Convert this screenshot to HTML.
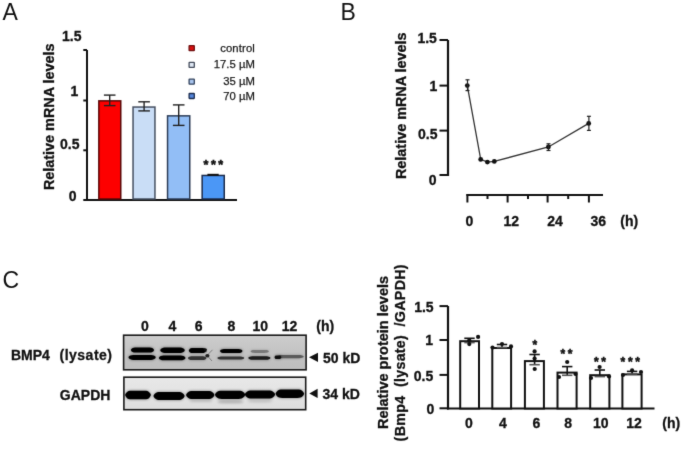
<!DOCTYPE html>
<html><head><meta charset="utf-8"><title>Figure</title>
<style>html,body{margin:0;padding:0;background:#fff;}svg{display:block;}</style></head>
<body><svg width="685" height="449" viewBox="0 0 685 449" font-family="Liberation Sans, Arial, sans-serif">
<defs><filter id="gb" x="0" y="0" width="685" height="449" filterUnits="userSpaceOnUse" color-interpolation-filters="sRGB"><feConvolveMatrix order="3" kernelMatrix="0.01 0.08 0.01 0.08 0.64 0.08 0.01 0.08 0.01" preserveAlpha="true"/></filter></defs>
<g filter="url(#gb)">
<rect width="685" height="449" fill="#fff"/>
<text x="2.5" y="19.8" font-size="23" font-weight="normal" text-anchor="start" fill="#111" >A</text>
<line x1="87" y1="50" x2="87" y2="201" stroke="#111" stroke-width="2"/>
<line x1="83.3" y1="50" x2="87" y2="50" stroke="#111" stroke-width="2"/>
<line x1="83.3" y1="100.5" x2="87" y2="100.5" stroke="#111" stroke-width="2"/>
<line x1="83.3" y1="150.3" x2="87" y2="150.3" stroke="#111" stroke-width="2"/>
<line x1="83.3" y1="200" x2="237" y2="200" stroke="#111" stroke-width="2"/>
<text x="81.5" y="40.9" font-size="14" font-weight="bold" text-anchor="end" fill="#111" stroke="#111" stroke-width="0.3" >1.5</text>
<text x="78.3" y="95.9" font-size="14" font-weight="bold" text-anchor="end" fill="#111" stroke="#111" stroke-width="0.3" >1</text>
<text x="79.5" y="148.9" font-size="14" font-weight="bold" text-anchor="end" fill="#111" stroke="#111" stroke-width="0.3" >0.5</text>
<text x="76.6" y="200.5" font-size="14" font-weight="bold" text-anchor="end" fill="#111" stroke="#111" stroke-width="0.3" >0</text>
<text transform="translate(53.7,116.8) rotate(-90)" stroke="#111" stroke-width="0.3" font-size="14.4" font-weight="bold" text-anchor="middle" fill="#111">Relative mRNA levels</text>
<rect x="98.85" y="100.85" width="21.900000000000006" height="98.15" fill="#fd0000" stroke="#5a0808" stroke-width="1.5"/>
<rect x="133.05" y="107.05" width="21.899999999999977" height="91.95" fill="#c9ddf6" stroke="#465062" stroke-width="1.5"/>
<rect x="167.55" y="115.85" width="22.19999999999999" height="83.15" fill="#92bef6" stroke="#2e3e58" stroke-width="1.5"/>
<rect x="202.15" y="175.45" width="22.099999999999994" height="23.55000000000001" fill="#4b97f6" stroke="#1c2c4c" stroke-width="1.5"/>
<line x1="109.7" y1="95.1" x2="109.7" y2="105.6" stroke="#222" stroke-width="1.4"/>
<line x1="103.9" y1="95.1" x2="115.5" y2="95.1" stroke="#222" stroke-width="1.4"/>
<line x1="103.9" y1="105.6" x2="115.5" y2="105.6" stroke="#222" stroke-width="1.4"/>
<line x1="144.1" y1="101.8" x2="144.1" y2="110.9" stroke="#222" stroke-width="1.4"/>
<line x1="138.29999999999998" y1="101.8" x2="149.9" y2="101.8" stroke="#222" stroke-width="1.4"/>
<line x1="138.29999999999998" y1="110.9" x2="149.9" y2="110.9" stroke="#222" stroke-width="1.4"/>
<line x1="178.7" y1="104.9" x2="178.7" y2="125.4" stroke="#222" stroke-width="1.4"/>
<line x1="172.89999999999998" y1="104.9" x2="184.5" y2="104.9" stroke="#222" stroke-width="1.4"/>
<line x1="172.89999999999998" y1="125.4" x2="184.5" y2="125.4" stroke="#222" stroke-width="1.4"/>
<line x1="207.4" y1="174.8" x2="218.7" y2="174.8" stroke="#111" stroke-width="2"/>
<text x="203.55" y="168.9" font-size="12.5" font-weight="bold" fill="#111" stroke="#111" stroke-width="0.55" letter-spacing="2.5">***</text>
<rect x="189.1" y="45.6" width="5.2" height="5" fill="#d81010" stroke="#701010" stroke-width="1.3" rx="0.4"/>
<text x="254.8" y="52.2" font-size="11.3" font-weight="normal" text-anchor="end" fill="#1a1a1a" stroke="#1a1a1a" stroke-width="0.25" textLength="34.6">control</text>
<rect x="189.1" y="62.3" width="5.2" height="5" fill="#dfe8f4" stroke="#454d5c" stroke-width="1.3" rx="0.4"/>
<text x="254.8" y="67.8" font-size="11.3" font-weight="normal" text-anchor="end" fill="#1a1a1a" stroke="#1a1a1a" stroke-width="0.25">17.5 µM</text>
<rect x="189.1" y="79.2" width="5.2" height="5" fill="#a8c4ee" stroke="#34445e" stroke-width="1.3" rx="0.4"/>
<text x="254.8" y="84.6" font-size="11.3" font-weight="normal" text-anchor="end" fill="#1a1a1a" stroke="#1a1a1a" stroke-width="0.25">35 µM</text>
<rect x="189.1" y="93.5" width="5.2" height="5" fill="#5486dc" stroke="#1e2e50" stroke-width="1.3" rx="0.4"/>
<text x="254.8" y="99.7" font-size="11.3" font-weight="normal" text-anchor="end" fill="#1a1a1a" stroke="#1a1a1a" stroke-width="0.25">70 µM</text>
<text x="340.5" y="19.8" font-size="23" font-weight="normal" text-anchor="start" fill="#111" >B</text>
<line x1="448" y1="40" x2="448" y2="176" stroke="#111" stroke-width="2.2"/>
<line x1="439.5" y1="40" x2="448" y2="40" stroke="#111" stroke-width="2"/>
<line x1="439.5" y1="85.6" x2="448" y2="85.6" stroke="#111" stroke-width="2"/>
<line x1="439.5" y1="130.6" x2="448" y2="130.6" stroke="#111" stroke-width="2"/>
<line x1="439.5" y1="175" x2="448" y2="175" stroke="#111" stroke-width="2"/>
<text x="436.9" y="42.8" font-size="14" font-weight="bold" text-anchor="end" fill="#111" stroke="#111" stroke-width="0.3" >1.5</text>
<text x="437.3" y="91.1" font-size="14" font-weight="bold" text-anchor="end" fill="#111" stroke="#111" stroke-width="0.3" >1</text>
<text x="437.5" y="139.2" font-size="14" font-weight="bold" text-anchor="end" fill="#111" stroke="#111" stroke-width="0.3" >0.5</text>
<text x="436.5" y="184.5" font-size="14" font-weight="bold" text-anchor="end" fill="#111" stroke="#111" stroke-width="0.3" >0</text>
<text transform="translate(406,105.75) rotate(-90)" stroke="#111" stroke-width="0.3" font-size="14.4" font-weight="bold" text-anchor="middle" fill="#111">Relative mRNA levels</text>
<line x1="466.4" y1="195" x2="603" y2="195" stroke="#111" stroke-width="2"/>
<line x1="467.4" y1="194" x2="467.4" y2="202.5" stroke="#111" stroke-width="2"/>
<line x1="507.6" y1="194" x2="507.6" y2="202.5" stroke="#111" stroke-width="2"/>
<line x1="547.6" y1="194" x2="547.6" y2="202.5" stroke="#111" stroke-width="2"/>
<line x1="588.9" y1="194" x2="588.9" y2="202.5" stroke="#111" stroke-width="2"/>
<line x1="487.5" y1="194" x2="487.5" y2="199" stroke="#111" stroke-width="2"/>
<line x1="528" y1="194" x2="528" y2="199" stroke="#111" stroke-width="2"/>
<line x1="568.2" y1="194" x2="568.2" y2="199" stroke="#111" stroke-width="2"/>
<text x="469.4" y="226.2" font-size="14" font-weight="bold" text-anchor="middle" fill="#111" stroke="#111" stroke-width="0.3" >0</text>
<text x="511.2" y="226.2" font-size="14" font-weight="bold" text-anchor="middle" fill="#111" stroke="#111" stroke-width="0.3" >12</text>
<text x="555" y="226.2" font-size="14" font-weight="bold" text-anchor="middle" fill="#111" stroke="#111" stroke-width="0.3" >24</text>
<text x="598.2" y="226.2" font-size="14" font-weight="bold" text-anchor="middle" fill="#111" stroke="#111" stroke-width="0.3" >36</text>
<text x="629.2" y="226.2" font-size="14" font-weight="bold" text-anchor="middle" fill="#111" stroke="#111" stroke-width="0.3" >(h)</text>
<polyline points="467.3,85.6 480.7,159.4 487.4,162.1 494.3,161.4 548.4,147 588.7,123.4" fill="none" stroke="#333" stroke-width="1.3"/>
<circle cx="467.3" cy="85.6" r="2.4" fill="#111"/>
<circle cx="480.7" cy="159.4" r="2.4" fill="#111"/>
<circle cx="487.4" cy="162.1" r="2.4" fill="#111"/>
<circle cx="494.3" cy="161.4" r="2.4" fill="#111"/>
<circle cx="548.4" cy="147" r="2.4" fill="#111"/>
<circle cx="588.7" cy="123.4" r="2.4" fill="#111"/>
<line x1="467.5" y1="79.8" x2="467.5" y2="90.6" stroke="#222" stroke-width="1.2"/>
<line x1="465.5" y1="79.8" x2="469.5" y2="79.8" stroke="#222" stroke-width="1.2"/>
<line x1="465.5" y1="90.6" x2="469.5" y2="90.6" stroke="#222" stroke-width="1.2"/>
<line x1="548.5" y1="143.8" x2="548.5" y2="150.5" stroke="#222" stroke-width="1.2"/>
<line x1="546.5" y1="143.8" x2="550.5" y2="143.8" stroke="#222" stroke-width="1.2"/>
<line x1="546.5" y1="150.5" x2="550.5" y2="150.5" stroke="#222" stroke-width="1.2"/>
<line x1="588.9" y1="116.3" x2="588.9" y2="130.4" stroke="#222" stroke-width="1.2"/>
<line x1="586.9" y1="116.3" x2="590.9" y2="116.3" stroke="#222" stroke-width="1.2"/>
<line x1="586.9" y1="130.4" x2="590.9" y2="130.4" stroke="#222" stroke-width="1.2"/>
<text x="2.5" y="288.2" font-size="23" font-weight="normal" text-anchor="start" fill="#111" >C</text>
<text x="145" y="330.7" font-size="14" font-weight="bold" text-anchor="middle" fill="#111" stroke="#111" stroke-width="0.3" >0</text>
<text x="172.3" y="330.7" font-size="14" font-weight="bold" text-anchor="middle" fill="#111" stroke="#111" stroke-width="0.3" >4</text>
<text x="198.7" y="330.7" font-size="14" font-weight="bold" text-anchor="middle" fill="#111" stroke="#111" stroke-width="0.3" >6</text>
<text x="231.4" y="330.7" font-size="14" font-weight="bold" text-anchor="middle" fill="#111" stroke="#111" stroke-width="0.3" >8</text>
<text x="260.3" y="330.7" font-size="14" font-weight="bold" text-anchor="middle" fill="#111" stroke="#111" stroke-width="0.3" >10</text>
<text x="289.6" y="330.7" font-size="14" font-weight="bold" text-anchor="middle" fill="#111" stroke="#111" stroke-width="0.3" >12</text>
<text x="325.2" y="330.7" font-size="14" font-weight="bold" text-anchor="middle" fill="#111" stroke="#111" stroke-width="0.3" >(h)</text>
<text x="11" y="359.9" font-size="14" font-weight="bold" text-anchor="start" fill="#111" stroke="#111" stroke-width="0.3" >BMP4</text>
<text x="59.5" y="359.9" font-size="14" font-weight="bold" text-anchor="start" fill="#111" stroke="#111" stroke-width="0.3" textLength="52.5">(lysate)</text>
<text x="59.8" y="399.8" font-size="14" font-weight="bold" text-anchor="start" fill="#111" stroke="#111" stroke-width="0.3" >GAPDH</text>
<polygon points="309,357.3 318,352.7 318,362" fill="#111"/>
<polygon points="309.3,393.5 317.6,388.8 317.6,398.1" fill="#111"/>
<text x="323" y="362.8" font-size="14" font-weight="bold" text-anchor="start" fill="#111" stroke="#111" stroke-width="0.3" >50 kD</text>
<text x="322.5" y="399.3" font-size="14" font-weight="bold" text-anchor="start" fill="#111" stroke="#111" stroke-width="0.3" >34 kD</text>
<defs>
<linearGradient id="g1" x1="0" y1="0" x2="0" y2="1"><stop offset="0" stop-color="#cdcdcd"/><stop offset="0.45" stop-color="#c4c4c4"/><stop offset="1" stop-color="#bdbdbd"/></linearGradient>
<linearGradient id="g2" x1="0" y1="0" x2="0" y2="1"><stop offset="0" stop-color="#e8e8e8"/><stop offset="1" stop-color="#dedede"/></linearGradient>
<filter id="bl" x="-20%" y="-100%" width="140%" height="300%"><feGaussianBlur stdDeviation="0.7"/></filter>
<filter id="halo" x="-20%" y="-150%" width="140%" height="400%"><feGaussianBlur stdDeviation="1.6"/></filter>
<filter id="bl2" x="-20%" y="-100%" width="140%" height="300%"><feGaussianBlur stdDeviation="1.3"/></filter>
</defs>
<rect x="123.6" y="335.2" width="182.5" height="34.6" fill="url(#g1)" stroke="#1a1a1a" stroke-width="1.6"/>
<rect x="123.9" y="377.2" width="181.8" height="32.5" fill="url(#g2)" stroke="#1a1a1a" stroke-width="1.6"/>
<path d="M131.4,349.0 C133.1,347.6 134.3,347.6 136.3,347.6 L148.6,347.6 C150.6,347.6 151.8,347.6 153.5,349.0 Q154.6,350.1 153.5,351.2 C151.8,352.6 150.6,352.6 148.6,352.6 L136.3,352.6 C134.3,352.6 133.1,352.6 131.4,351.2 Q130.3,350.1 131.4,349.0 Z" fill="#000" opacity="0.45" filter="url(#halo)"/>
<path d="M131.4,349.0 C133.1,347.6 134.3,347.6 136.3,347.6 L148.6,347.6 C150.6,347.6 151.8,347.6 153.5,349.0 Q154.6,350.1 153.5,351.2 C151.8,352.6 150.6,352.6 148.6,352.6 L136.3,352.6 C134.3,352.6 133.1,352.6 131.4,351.2 Q130.3,350.1 131.4,349.0 Z" fill="#000" opacity="1" filter="url(#bl)"/>
<path d="M129.0,356.3 C131.0,354.9 132.5,354.9 134.8,354.9 L149.4,354.9 C151.7,354.9 153.2,354.9 155.2,356.3 Q156.3,357.4 155.2,358.5 C153.2,359.9 151.7,359.9 149.4,359.9 L134.8,359.9 C132.5,359.9 131.0,359.9 129.0,358.5 Q127.9,357.4 129.0,356.3 Z" fill="#000" opacity="0.45" filter="url(#halo)"/>
<path d="M129.0,356.3 C131.0,354.9 132.5,354.9 134.8,354.9 L149.4,354.9 C151.7,354.9 153.2,354.9 155.2,356.3 Q156.3,357.4 155.2,358.5 C153.2,359.9 151.7,359.9 149.4,359.9 L134.8,359.9 C132.5,359.9 131.0,359.9 129.0,358.5 Q127.9,357.4 129.0,356.3 Z" fill="#000" opacity="1" filter="url(#bl)"/>
<path d="M160.8,349.1 C162.6,347.6 163.9,347.6 165.9,347.6 L179.1,347.6 C181.1,347.6 182.4,347.6 184.2,349.1 Q185.4,350.3 184.2,351.5 C182.4,353.0 181.1,353.0 179.1,353.0 L165.9,353.0 C163.9,353.0 162.6,353.0 160.8,351.5 Q159.6,350.3 160.8,349.1 Z" fill="#000" opacity="0.45" filter="url(#halo)"/>
<path d="M160.8,349.1 C162.6,347.6 163.9,347.6 165.9,347.6 L179.1,347.6 C181.1,347.6 182.4,347.6 184.2,349.1 Q185.4,350.3 184.2,351.5 C182.4,353.0 181.1,353.0 179.1,353.0 L165.9,353.0 C163.9,353.0 162.6,353.0 160.8,351.5 Q159.6,350.3 160.8,349.1 Z" fill="#000" opacity="1" filter="url(#bl)"/>
<path d="M159.3,356.9 C161.3,355.6 162.7,355.6 165.0,355.6 L179.3,355.6 C181.6,355.6 183.0,355.6 185.0,356.9 Q186.0,357.9 185.0,358.9 C183.0,360.2 181.6,360.2 179.3,360.2 L165.0,360.2 C162.7,360.2 161.3,360.2 159.3,358.9 Q158.3,357.9 159.3,356.9 Z" fill="#000" opacity="0.45" filter="url(#halo)"/>
<path d="M159.3,356.9 C161.3,355.6 162.7,355.6 165.0,355.6 L179.3,355.6 C181.6,355.6 183.0,355.6 185.0,356.9 Q186.0,357.9 185.0,358.9 C183.0,360.2 181.6,360.2 179.3,360.2 L165.0,360.2 C162.7,360.2 161.3,360.2 159.3,358.9 Q158.3,357.9 159.3,356.9 Z" fill="#000" opacity="1" filter="url(#bl)"/>
<path d="M189.3,349.5 C190.5,348.1 191.4,348.1 192.9,348.1 L201.9,348.1 C203.4,348.1 204.3,348.1 205.5,349.5 Q206.6,350.6 205.5,351.7 C204.3,353.1 203.4,353.1 201.9,353.1 L192.9,353.1 C191.4,353.1 190.5,353.1 189.3,351.7 Q188.2,350.6 189.3,349.5 Z" fill="#050505" opacity="0.45" filter="url(#halo)"/>
<path d="M189.3,349.5 C190.5,348.1 191.4,348.1 192.9,348.1 L201.9,348.1 C203.4,348.1 204.3,348.1 205.5,349.5 Q206.6,350.6 205.5,351.7 C204.3,353.1 203.4,353.1 201.9,353.1 L192.9,353.1 C191.4,353.1 190.5,353.1 189.3,351.7 Q188.2,350.6 189.3,349.5 Z" fill="#050505" opacity="1" filter="url(#bl)"/>
<path d="M203,348.6 Q206,347.4 207,349.5 L206,352.5 Z" fill="#111" filter="url(#bl)"/>
<path d="M188.4,357.3 C189.8,356.3 190.7,356.3 192.3,356.3 L202.1,356.3 C203.7,356.3 204.6,356.3 206.0,357.3 Q206.8,358.1 206.0,358.9 C204.6,359.9 203.7,359.9 202.1,359.9 L192.3,359.9 C190.7,359.9 189.8,359.9 188.4,358.9 Q187.6,358.1 188.4,357.3 Z" fill="#333" opacity="0.45" filter="url(#halo)"/>
<path d="M188.4,357.3 C189.8,356.3 190.7,356.3 192.3,356.3 L202.1,356.3 C203.7,356.3 204.6,356.3 206.0,357.3 Q206.8,358.1 206.0,358.9 C204.6,359.9 203.7,359.9 202.1,359.9 L192.3,359.9 C190.7,359.9 189.8,359.9 188.4,358.9 Q187.6,358.1 188.4,357.3 Z" fill="#333" opacity="1" filter="url(#bl)"/>
<ellipse cx="207.4" cy="355.7" rx="2.1" ry="1.7" fill="#1a1a1a" filter="url(#bl)"/>
<path d="M207,355.5 L212.5,349.8 M207.5,356 L212,361" stroke="#444" stroke-width="0.9" opacity="0.6" filter="url(#bl)"/>
<path d="M220.5,350.1 C222.2,348.9 223.3,348.9 225.2,348.9 L237.3,348.9 C239.2,348.9 240.3,348.9 242.0,350.1 Q242.9,351.0 242.0,351.9 C240.3,353.1 239.2,353.1 237.3,353.1 L225.2,353.1 C223.3,353.1 222.2,353.1 220.5,351.9 Q219.6,351.0 220.5,350.1 Z" fill="#050505" opacity="0.45" filter="url(#halo)"/>
<path d="M220.5,350.1 C222.2,348.9 223.3,348.9 225.2,348.9 L237.3,348.9 C239.2,348.9 240.3,348.9 242.0,350.1 Q242.9,351.0 242.0,351.9 C240.3,353.1 239.2,353.1 237.3,353.1 L225.2,353.1 C223.3,353.1 222.2,353.1 220.5,351.9 Q219.6,351.0 220.5,350.1 Z" fill="#050505" opacity="1" filter="url(#bl)"/>
<path d="M217.8,357.3 C219.8,356.4 221.2,356.4 223.5,356.4 L238.1,356.4 C240.4,356.4 241.8,356.4 243.8,357.3 Q244.5,358.0 243.8,358.7 C241.8,359.6 240.4,359.6 238.1,359.6 L223.5,359.6 C221.2,359.6 219.8,359.6 217.8,358.7 Q217.1,358.0 217.8,357.3 Z" fill="#333" opacity="0.45" filter="url(#halo)"/>
<path d="M217.8,357.3 C219.8,356.4 221.2,356.4 223.5,356.4 L238.1,356.4 C240.4,356.4 241.8,356.4 243.8,357.3 Q244.5,358.0 243.8,358.7 C241.8,359.6 240.4,359.6 238.1,359.6 L223.5,359.6 C221.2,359.6 219.8,359.6 217.8,358.7 Q217.1,358.0 217.8,357.3 Z" fill="#333" opacity="1" filter="url(#bl)"/>
<path d="M251.0,350.7 C252.3,349.9 253.3,349.9 254.8,349.9 L264.6,349.9 C266.2,349.9 267.2,349.9 268.5,350.7 Q269.2,351.4 268.5,352.1 C267.2,352.9 266.2,352.9 264.6,352.9 L254.8,352.9 C253.3,352.9 252.3,352.9 251.0,352.1 Q250.3,351.4 251.0,350.7 Z" fill="#787878" opacity="0.45" filter="url(#halo)"/>
<path d="M251.0,350.7 C252.3,349.9 253.3,349.9 254.8,349.9 L264.6,349.9 C266.2,349.9 267.2,349.9 268.5,350.7 Q269.2,351.4 268.5,352.1 C267.2,352.9 266.2,352.9 264.6,352.9 L254.8,352.9 C253.3,352.9 252.3,352.9 251.0,352.1 Q250.3,351.4 251.0,350.7 Z" fill="#787878" opacity="1" filter="url(#bl)"/>
<path d="M248.7,357.3 C250.3,356.3 251.5,356.3 253.4,356.3 L265.3,356.3 C267.2,356.3 268.4,356.3 270.0,357.3 Q270.7,358.0 270.0,358.7 C268.4,359.7 267.2,359.7 265.3,359.7 L253.4,359.7 C251.5,359.7 250.3,359.7 248.7,358.7 Q248.0,358.0 248.7,357.3 Z" fill="#1a1a1a" opacity="0.45" filter="url(#halo)"/>
<path d="M248.7,357.3 C250.3,356.3 251.5,356.3 253.4,356.3 L265.3,356.3 C267.2,356.3 268.4,356.3 270.0,357.3 Q270.7,358.0 270.0,358.7 C268.4,359.7 267.2,359.7 265.3,359.7 L253.4,359.7 C251.5,359.7 250.3,359.7 248.7,358.7 Q248.0,358.0 248.7,357.3 Z" fill="#1a1a1a" opacity="1" filter="url(#bl)"/>
<path d="M277.0,355.9 C279.0,355.0 280.5,355.0 282.8,355.0 L297.6,355.0 C299.9,355.0 301.4,355.0 303.4,355.9 Q304.1,356.6 303.4,357.3 C301.4,358.2 299.9,358.2 297.6,358.2 L282.8,358.2 C280.5,358.2 279.0,358.2 277.0,357.3 Q276.3,356.6 277.0,355.9 Z" fill="#5a5a5a" opacity="0.45" filter="url(#halo)"/>
<path d="M277.0,355.9 C279.0,355.0 280.5,355.0 282.8,355.0 L297.6,355.0 C299.9,355.0 301.4,355.0 303.4,355.9 Q304.1,356.6 303.4,357.3 C301.4,358.2 299.9,358.2 297.6,358.2 L282.8,358.2 C280.5,358.2 279.0,358.2 277.0,357.3 Q276.3,356.6 277.0,355.9 Z" fill="#5a5a5a" opacity="1" filter="url(#bl)"/>
<path d="M274.8,356.6 C275.3,355.6 275.6,355.6 276.2,355.6 L279.6,355.6 C280.2,355.6 280.5,355.6 281.0,356.6 Q281.7,357.3 281.0,358.0 C280.5,359.0 280.2,359.0 279.6,359.0 L276.2,359.0 C275.6,359.0 275.3,359.0 274.8,358.0 Q274.1,357.3 274.8,356.6 Z" fill="#111" opacity="0.45" filter="url(#halo)"/>
<path d="M274.8,356.6 C275.3,355.6 275.6,355.6 276.2,355.6 L279.6,355.6 C280.2,355.6 280.5,355.6 281.0,356.6 Q281.7,357.3 281.0,358.0 C280.5,359.0 280.2,359.0 279.6,359.0 L276.2,359.0 C275.6,359.0 275.3,359.0 274.8,358.0 Q274.1,357.3 274.8,356.6 Z" fill="#111" opacity="1" filter="url(#bl)"/>
<path d="M218.0,401.3 C219.9,400.7 221.3,400.7 223.5,400.7 L237.5,400.7 C239.7,400.7 241.1,400.7 243.0,401.3 Q243.5,401.8 243.0,402.3 C241.1,402.9 239.7,402.9 237.5,402.9 L223.5,402.9 C221.3,402.9 219.9,402.9 218.0,402.3 Q217.5,401.8 218.0,401.3 Z" fill="#888" opacity="0.23" filter="url(#halo)"/>
<path d="M218.0,401.3 C219.9,400.7 221.3,400.7 223.5,400.7 L237.5,400.7 C239.7,400.7 241.1,400.7 243.0,401.3 Q243.5,401.8 243.0,402.3 C241.1,402.9 239.7,402.9 237.5,402.9 L223.5,402.9 C221.3,402.9 219.9,402.9 218.0,402.3 Q217.5,401.8 218.0,401.3 Z" fill="#888" opacity="0.5" filter="url(#bl2)"/>
<path d="M248.0,400.8 C249.8,400.2 251.2,400.2 253.3,400.2 L266.7,400.2 C268.8,400.2 270.2,400.2 272.0,400.8 Q272.4,401.2 272.0,401.6 C270.2,402.2 268.8,402.2 266.7,402.2 L253.3,402.2 C251.2,402.2 249.8,402.2 248.0,401.6 Q247.6,401.2 248.0,400.8 Z" fill="#999" opacity="0.18" filter="url(#halo)"/>
<path d="M248.0,400.8 C249.8,400.2 251.2,400.2 253.3,400.2 L266.7,400.2 C268.8,400.2 270.2,400.2 272.0,400.8 Q272.4,401.2 272.0,401.6 C270.2,402.2 268.8,402.2 266.7,402.2 L253.3,402.2 C251.2,402.2 249.8,402.2 248.0,401.6 Q247.6,401.2 248.0,400.8 Z" fill="#999" opacity="0.4" filter="url(#bl2)"/>
<path d="M190.0,400.6 C191.7,400.0 192.9,400.0 194.8,400.0 L207.2,400.0 C209.1,400.0 210.3,400.0 212.0,400.6 Q212.4,401.0 212.0,401.4 C210.3,402.0 209.1,402.0 207.2,402.0 L194.8,402.0 C192.9,402.0 191.7,402.0 190.0,401.4 Q189.6,401.0 190.0,400.6 Z" fill="#999" opacity="0.16" filter="url(#halo)"/>
<path d="M190.0,400.6 C191.7,400.0 192.9,400.0 194.8,400.0 L207.2,400.0 C209.1,400.0 210.3,400.0 212.0,400.6 Q212.4,401.0 212.0,401.4 C210.3,402.0 209.1,402.0 207.2,402.0 L194.8,402.0 C192.9,402.0 191.7,402.0 190.0,401.4 Q189.6,401.0 190.0,400.6 Z" fill="#999" opacity="0.35" filter="url(#bl2)"/>
<path d="M126.1,393.1 C127.9,390.7 129.2,390.7 131.3,390.7 L144.7,390.7 C146.8,390.7 148.1,390.7 149.9,393.1 Q151.8,395.0 149.9,396.9 C148.1,399.3 146.8,399.3 144.7,399.3 L131.3,399.3 C129.2,399.3 127.9,399.3 126.1,396.9 Q124.2,395.0 126.1,393.1 Z" fill="#000" opacity="0.45" filter="url(#halo)"/>
<path d="M126.1,393.1 C127.9,390.7 129.2,390.7 131.3,390.7 L144.7,390.7 C146.8,390.7 148.1,390.7 149.9,393.1 Q151.8,395.0 149.9,396.9 C148.1,399.3 146.8,399.3 144.7,399.3 L131.3,399.3 C129.2,399.3 127.9,399.3 126.1,396.9 Q124.2,395.0 126.1,393.1 Z" fill="#000" opacity="1" filter="url(#bl)"/>
<path d="M154.3,394.2 C156.4,391.9 157.9,391.9 160.3,391.9 L177.8,391.9 C180.2,391.9 181.7,391.9 183.8,394.2 Q185.6,396.0 183.8,397.8 C181.7,400.1 180.2,400.1 177.8,400.1 L160.3,400.1 C157.9,400.1 156.4,400.1 154.3,397.8 Q152.5,396.0 154.3,394.2 Z" fill="#000" opacity="0.45" filter="url(#halo)"/>
<path d="M154.3,394.2 C156.4,391.9 157.9,391.9 160.3,391.9 L177.8,391.9 C180.2,391.9 181.7,391.9 183.8,394.2 Q185.6,396.0 183.8,397.8 C181.7,400.1 180.2,400.1 177.8,400.1 L160.3,400.1 C157.9,400.1 156.4,400.1 154.3,397.8 Q152.5,396.0 154.3,394.2 Z" fill="#000" opacity="1" filter="url(#bl)"/>
<path d="M186.9,393.2 C189.0,390.9 190.4,390.9 192.8,390.9 L207.7,390.9 C210.1,390.9 211.5,390.9 213.6,393.2 Q215.4,395.0 213.6,396.8 C211.5,399.1 210.1,399.1 207.7,399.1 L192.8,399.1 C190.4,399.1 189.0,399.1 186.9,396.8 Q185.1,395.0 186.9,393.2 Z" fill="#000" opacity="0.45" filter="url(#halo)"/>
<path d="M186.9,393.2 C189.0,390.9 190.4,390.9 192.8,390.9 L207.7,390.9 C210.1,390.9 211.5,390.9 213.6,393.2 Q215.4,395.0 213.6,396.8 C211.5,399.1 210.1,399.1 207.7,399.1 L192.8,399.1 C190.4,399.1 189.0,399.1 186.9,396.8 Q185.1,395.0 186.9,393.2 Z" fill="#000" opacity="1" filter="url(#bl)"/>
<path d="M215.8,393.0 C217.9,390.7 219.4,390.7 221.8,390.7 L238.4,390.7 C240.8,390.7 242.3,390.7 244.4,393.0 Q246.2,394.8 244.4,396.6 C242.3,398.9 240.8,398.9 238.4,398.9 L221.8,398.9 C219.4,398.9 217.9,398.9 215.8,396.6 Q214.0,394.8 215.8,393.0 Z" fill="#000" opacity="0.45" filter="url(#halo)"/>
<path d="M215.8,393.0 C217.9,390.7 219.4,390.7 221.8,390.7 L238.4,390.7 C240.8,390.7 242.3,390.7 244.4,393.0 Q246.2,394.8 244.4,396.6 C242.3,398.9 240.8,398.9 238.4,398.9 L221.8,398.9 C219.4,398.9 217.9,398.9 215.8,396.6 Q214.0,394.8 215.8,393.0 Z" fill="#000" opacity="1" filter="url(#bl)"/>
<path d="M245.8,392.8 C247.9,390.6 249.4,390.6 251.8,390.6 L268.2,390.6 C270.6,390.6 272.1,390.6 274.2,392.8 Q275.9,394.5 274.2,396.2 C272.1,398.4 270.6,398.4 268.2,398.4 L251.8,398.4 C249.4,398.4 247.9,398.4 245.8,396.2 Q244.1,394.5 245.8,392.8 Z" fill="#000" opacity="0.45" filter="url(#halo)"/>
<path d="M245.8,392.8 C247.9,390.6 249.4,390.6 251.8,390.6 L268.2,390.6 C270.6,390.6 272.1,390.6 274.2,392.8 Q275.9,394.5 274.2,396.2 C272.1,398.4 270.6,398.4 268.2,398.4 L251.8,398.4 C249.4,398.4 247.9,398.4 245.8,396.2 Q244.1,394.5 245.8,392.8 Z" fill="#000" opacity="1" filter="url(#bl)"/>
<path d="M276.4,392.0 C278.5,389.6 280.0,389.6 282.3,389.6 L297.4,389.6 C299.7,389.6 301.2,389.6 303.3,392.0 Q305.1,393.8 303.3,395.6 C301.2,398.0 299.7,398.0 297.4,398.0 L282.3,398.0 C280.0,398.0 278.5,398.0 276.4,395.6 Q274.6,393.8 276.4,392.0 Z" fill="#000" opacity="0.45" filter="url(#halo)"/>
<path d="M276.4,392.0 C278.5,389.6 280.0,389.6 282.3,389.6 L297.4,389.6 C299.7,389.6 301.2,389.6 303.3,392.0 Q305.1,393.8 303.3,395.6 C301.2,398.0 299.7,398.0 297.4,398.0 L282.3,398.0 C280.0,398.0 278.5,398.0 276.4,395.6 Q274.6,393.8 276.4,392.0 Z" fill="#000" opacity="1" filter="url(#bl)"/>
<text transform="translate(387.7,352.5) rotate(-90)" stroke="#111" stroke-width="0.3" font-size="14.5" font-weight="bold" text-anchor="middle" fill="#111">Relative protein levels</text>
<text transform="translate(405.4,352.9) rotate(-90)" stroke="#111" stroke-width="0.3" font-size="14.3" font-weight="bold" text-anchor="middle" fill="#111" xml:space="preserve" textLength="177" lengthAdjust="spacing">(Bmp4  (lysate)  /GAPDH)</text>
<line x1="448" y1="306" x2="448" y2="409.5" stroke="#111" stroke-width="2.2"/>
<line x1="439.5" y1="306.1" x2="448" y2="306.1" stroke="#111" stroke-width="2"/>
<line x1="439.5" y1="340" x2="448" y2="340" stroke="#111" stroke-width="2"/>
<line x1="439.5" y1="374.9" x2="448" y2="374.9" stroke="#111" stroke-width="2"/>
<line x1="439.5" y1="408.3" x2="448" y2="408.3" stroke="#111" stroke-width="2"/>
<text x="433.6" y="312" font-size="14" font-weight="bold" text-anchor="end" fill="#111" stroke="#111" stroke-width="0.3" >1.5</text>
<text x="433" y="344.5" font-size="14" font-weight="bold" text-anchor="end" fill="#111" stroke="#111" stroke-width="0.3" >1</text>
<text x="433.2" y="380.6" font-size="14" font-weight="bold" text-anchor="end" fill="#111" stroke="#111" stroke-width="0.3" >0.5</text>
<text x="434.2" y="414" font-size="14" font-weight="bold" text-anchor="end" fill="#111" stroke="#111" stroke-width="0.3" >0</text>
<line x1="447" y1="408.5" x2="654.5" y2="408.5" stroke="#111" stroke-width="2.2"/>
<rect x="460.2" y="341.2" width="18.80000000000001" height="67.30000000000001" fill="#fff" stroke="#111" stroke-width="2"/>
<rect x="492.3" y="348" width="18.80000000000001" height="60.5" fill="#fff" stroke="#111" stroke-width="2"/>
<rect x="524.9" y="361.1" width="19.0" height="47.39999999999998" fill="#fff" stroke="#111" stroke-width="2"/>
<rect x="557.5" y="372.6" width="19.100000000000023" height="35.89999999999998" fill="#fff" stroke="#111" stroke-width="2"/>
<rect x="590.2" y="375.2" width="19.199999999999932" height="33.30000000000001" fill="#fff" stroke="#111" stroke-width="2"/>
<rect x="622.4" y="374.4" width="19.200000000000045" height="34.10000000000002" fill="#fff" stroke="#111" stroke-width="2"/>
<text x="469" y="428.1" font-size="14" font-weight="bold" text-anchor="middle" fill="#111" stroke="#111" stroke-width="0.3" >0</text>
<text x="503" y="428.1" font-size="14" font-weight="bold" text-anchor="middle" fill="#111" stroke="#111" stroke-width="0.3" >4</text>
<text x="536.3" y="428.1" font-size="14" font-weight="bold" text-anchor="middle" fill="#111" stroke="#111" stroke-width="0.3" >6</text>
<text x="568.2" y="428.1" font-size="14" font-weight="bold" text-anchor="middle" fill="#111" stroke="#111" stroke-width="0.3" >8</text>
<text x="600.8" y="428.1" font-size="14" font-weight="bold" text-anchor="middle" fill="#111" stroke="#111" stroke-width="0.3" >10</text>
<text x="634.1" y="428.1" font-size="14" font-weight="bold" text-anchor="middle" fill="#111" stroke="#111" stroke-width="0.3" >12</text>
<text x="671.3" y="428.1" font-size="14" font-weight="bold" text-anchor="middle" fill="#111" stroke="#111" stroke-width="0.3" >(h)</text>
<line x1="469.5" y1="338.3" x2="469.5" y2="342.6" stroke="#111" stroke-width="1.6"/>
<line x1="464.3" y1="338.3" x2="474.7" y2="338.3" stroke="#111" stroke-width="1.6"/>
<line x1="464.3" y1="342.6" x2="474.7" y2="342.6" stroke="#555" stroke-width="1.6"/>
<line x1="502" y1="344.5" x2="502" y2="347.5" stroke="#111" stroke-width="1.6"/>
<line x1="496.8" y1="344.5" x2="507.2" y2="344.5" stroke="#111" stroke-width="1.6"/>
<line x1="496.8" y1="347.5" x2="507.2" y2="347.5" stroke="#555" stroke-width="1.6"/>
<line x1="534.6" y1="354.5" x2="534.6" y2="364.7" stroke="#111" stroke-width="1.6"/>
<line x1="529.4" y1="354.5" x2="539.8000000000001" y2="354.5" stroke="#111" stroke-width="1.6"/>
<line x1="529.4" y1="364.7" x2="539.8000000000001" y2="364.7" stroke="#555" stroke-width="1.6"/>
<line x1="567.2" y1="366.6" x2="567.2" y2="375.3" stroke="#111" stroke-width="1.6"/>
<line x1="562.0" y1="366.6" x2="572.4000000000001" y2="366.6" stroke="#111" stroke-width="1.6"/>
<line x1="562.0" y1="375.3" x2="572.4000000000001" y2="375.3" stroke="#555" stroke-width="1.6"/>
<line x1="599.8" y1="370" x2="599.8" y2="376.6" stroke="#111" stroke-width="1.6"/>
<line x1="594.5999999999999" y1="370" x2="605.0" y2="370" stroke="#111" stroke-width="1.6"/>
<line x1="594.5999999999999" y1="376.6" x2="605.0" y2="376.6" stroke="#555" stroke-width="1.6"/>
<line x1="632.1" y1="371.4" x2="632.1" y2="374" stroke="#111" stroke-width="1.6"/>
<line x1="626.9" y1="371.4" x2="637.3000000000001" y2="371.4" stroke="#111" stroke-width="1.6"/>
<line x1="626.9" y1="374" x2="637.3000000000001" y2="374" stroke="#555" stroke-width="1.6"/>
<circle cx="469.3" cy="344.1" r="2.1" fill="#111"/>
<circle cx="469.3" cy="340.2" r="2.1" fill="#111"/>
<circle cx="478.1" cy="336.9" r="2.1" fill="#111"/>
<circle cx="492.5" cy="347.6" r="2.1" fill="#111"/>
<circle cx="502" cy="344" r="2.1" fill="#111"/>
<circle cx="511" cy="346.4" r="2.1" fill="#111"/>
<circle cx="534.6" cy="351.4" r="2.1" fill="#111"/>
<circle cx="534.6" cy="358.5" r="2.1" fill="#111"/>
<circle cx="534.7" cy="369" r="2.1" fill="#111"/>
<circle cx="567.2" cy="362" r="2.1" fill="#111"/>
<circle cx="559" cy="377" r="2.1" fill="#111"/>
<circle cx="575.5" cy="374" r="2.1" fill="#111"/>
<circle cx="599.6" cy="367" r="2.1" fill="#111"/>
<circle cx="591" cy="378" r="2.1" fill="#111"/>
<circle cx="609" cy="376.5" r="2.1" fill="#111"/>
<circle cx="632.1" cy="370.4" r="2.1" fill="#111"/>
<circle cx="641" cy="372" r="2.1" fill="#111"/>
<circle cx="623" cy="375" r="2.1" fill="#111"/>
<text x="532.6" y="348.6" font-size="12" font-weight="bold" fill="#111" stroke="#111" stroke-width="0.5" letter-spacing="2.73">*</text>
<text x="560.4" y="358.1" font-size="12" font-weight="bold" fill="#111" stroke="#111" stroke-width="0.5" letter-spacing="2.73">**</text>
<text x="593.9" y="366.4" font-size="12" font-weight="bold" fill="#111" stroke="#111" stroke-width="0.5" letter-spacing="2.73">**</text>
<text x="620.5" y="366.4" font-size="12" font-weight="bold" fill="#111" stroke="#111" stroke-width="0.5" letter-spacing="2.73">***</text>
</g>
</svg></body></html>
